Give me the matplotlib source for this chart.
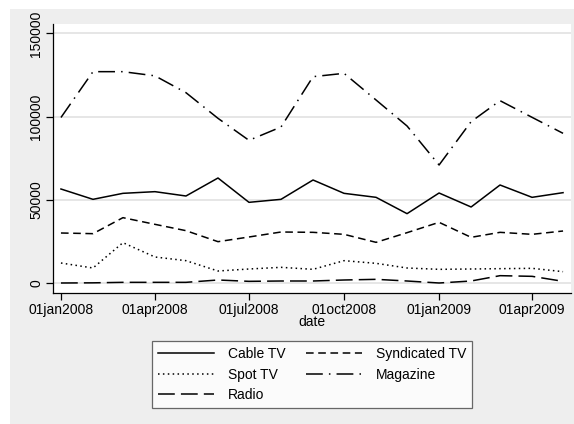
import matplotlib
matplotlib.use('Agg')
import matplotlib.pyplot as plt
from matplotlib.patches import Rectangle
import datetime as dt

# -----------------------------------------------------------------------------
# Data (monthly, Jan 2008 - May 2009)
# -----------------------------------------------------------------------------
months = ['2008-01', '2008-02', '2008-03', '2008-04', '2008-05', '2008-06',
          '2008-07', '2008-08', '2008-09', '2008-10', '2008-11', '2008-12',
          '2009-01', '2009-02', '2009-03', '2009-04', '2009-05']
cable_tv = [56600, 50400, 54000, 55000, 52400, 63200, 48600, 50400, 62000,
            54000, 51600, 41800, 54200, 45800, 59000, 51600, 54400]
syndicated_tv = [30200, 29800, 39400, 35400, 31600, 25000, 27800, 30800, 30600,
                 29400, 24600, 30400, 36600, 27600, 30600, 29400, 31400]
spot_tv = [12200, 9200, 24400, 15800, 13600, 7400, 8600, 9600, 8400,
           13600, 12000, 9200, 8400, 8600, 8800, 9000, 7000]
magazine = [99500, 127000, 127000, 124500, 114400, 99000, 85800, 93800, 124000,
            126000, 110000, 94400, 71000, 97000, 109600, 99600, 90000]
radio = [200, 300, 600, 600, 600, 2000, 1200, 1400, 1400,
         2000, 2400, 1400, 200, 1400, 4600, 4200, 1200]

tick_dates = ['2008-01-01', '2008-04-01', '2008-07-01', '2008-10-01',
              '2009-01-01', '2009-04-01']
y_ticks = [0, 50000, 100000, 150000]

dates = [dt.datetime.strptime(m + '-01', '%Y-%m-%d') for m in months]
tdates = [dt.datetime.strptime(d, '%Y-%m-%d') for d in tick_dates]

plt.rcParams['font.family'] = ['Liberation Sans', 'DejaVu Sans']
fs = 10.0
lfs = 10.0

W, H, dpi = 574, 424, 100
fig = plt.figure(figsize=(W/dpi, H/dpi), dpi=dpi, facecolor='white')
bg = Rectangle((10/W, 0), 1, (H-9)/H, transform=fig.transFigure,
               facecolor='#eeeeee', edgecolor='none', zorder=-10)
fig.add_artist(bg)

ax = fig.add_axes([53/W, (H-293)/H, (571-53)/W, (293-24)/H])
ax.set_zorder(1)
ax.set_facecolor('white')

lw = 1.1
ax.plot(dates, cable_tv, color='black', lw=lw, linestyle='-', label='Cable TV')
ax.plot(dates, spot_tv, color='black', lw=lw, linestyle=(0, (1, 2.2)), label='Spot TV')
ax.plot(dates, radio, color='black', lw=lw, linestyle=(0, (11, 4)), label='Radio')
ax.plot(dates, syndicated_tv, color='black', lw=lw, linestyle=(0, (5, 3)), label='Syndicated TV')
ax.plot(dates, magazine, color='black', lw=lw, linestyle=(0, (11, 4, 1, 4)), label='Magazine')

# axis limits
x0 = tdates[0] - dt.timedelta(days=7.7)
x1 = tdates[0] + dt.timedelta(days=493.7)
ax.set_xlim(x0, x1)
ax.set_ylim(-5800, 155600)

ax.set_yticks(y_ticks)
ax.set_yticklabels([str(v) for v in y_ticks], rotation=90, va='center', fontsize=fs)
ax.set_xticks(tdates)
ax.set_xticklabels([d.strftime('%d%b%Y').lower() for d in tdates], fontsize=fs)
ax.set_xlabel('date', fontsize=fs, labelpad=-1)

ax.yaxis.grid(True, color='#e6e6e6', lw=1.4)
ax.set_axisbelow(True)
for s in ['top', 'right']:
    ax.spines[s].set_visible(False)
for s in ['left', 'bottom']:
    ax.spines[s].set_linewidth(0.9)
ax.tick_params(axis='both', direction='out', length=5, width=0.9, pad=2)

leg = fig.legend(loc='upper left', bbox_to_anchor=(152/W, (H-341)/H),
                 ncol=2, fontsize=lfs, frameon=True, fancybox=False,
                 edgecolor='#444444', handlelength=4.0, columnspacing=1.5,
                 handletextpad=1.0, labelspacing=0.45, borderpad=0.45,
                 borderaxespad=0)
leg.get_frame().set_linewidth(0.9)
leg.get_frame().set_facecolor('white')

fig.savefig('out.png', dpi=dpi, facecolor=fig.get_facecolor())
